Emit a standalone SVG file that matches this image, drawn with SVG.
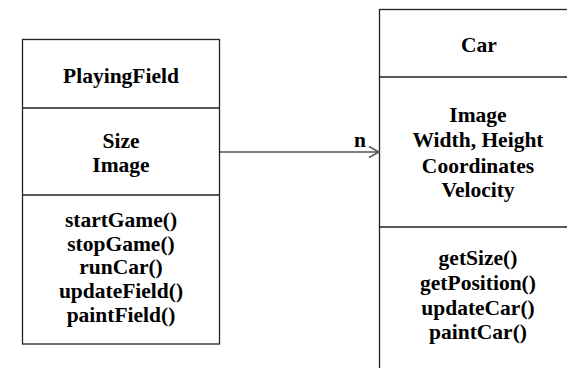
<svg xmlns="http://www.w3.org/2000/svg" width="567" height="368" viewBox="0 0 567 368">
  <defs>
    <style>
      .box { fill: #ffffff; stroke: #222222; stroke-width: 1.3; }
      .div { stroke: #222222; stroke-width: 1.3; }
      .t { font-family: "Liberation Serif", "Times New Roman", serif; font-weight: bold; font-size: 21.5px; fill: #000000; text-anchor: middle; }
      .conn { fill: none; stroke: #555555; stroke-width: 1.5; }
    </style>
  </defs>
  <rect width="567" height="368" fill="#ffffff"/>

  <!-- PlayingField class -->
  <g id="playingfield">
    <rect class="box" x="22.5" y="39.5" width="197" height="304.5"/>
    <line class="div" x1="22.5" y1="108" x2="219.5" y2="108"/>
    <line class="div" x1="22.5" y1="195" x2="219.5" y2="195"/>
    <text class="t" x="121" y="82.5">PlayingField</text>
    <text class="t" x="121" y="147.5">Size</text>
    <text class="t" x="121" y="171.5">Image</text>
    <text class="t" x="121" y="227">startGame()</text>
    <text class="t" x="121" y="250.7">stopGame()</text>
    <text class="t" x="121" y="274.4">runCar()</text>
    <text class="t" x="121" y="298">updateField()</text>
    <text class="t" x="121" y="321.7">paintField()</text>
  </g>

  <!-- Car class (continues past the right and bottom edges) -->
  <g id="car">
    <rect class="box" x="379.5" y="9.5" width="200" height="380"/>
    <line class="div" x1="379.5" y1="77" x2="579.5" y2="77"/>
    <line class="div" x1="379.5" y1="227" x2="579.5" y2="227"/>
    <text class="t" x="479" y="51.7">Car</text>
    <text class="t" x="478" y="122">Image</text>
    <text class="t" x="478" y="147">Width, Height</text>
    <text class="t" x="478" y="172.5">Coordinates</text>
    <text class="t" x="478" y="196.5">Velocity</text>
    <text class="t" x="478" y="265">getSize()</text>
    <text class="t" x="478" y="290">getPosition()</text>
    <text class="t" x="478" y="314.5">updateCar()</text>
    <text class="t" x="478" y="338.5">paintCar()</text>
  </g>

  <!-- association PlayingField -> Car -->
  <g id="connectors">
    <line class="conn" x1="220" y1="152" x2="379" y2="152"/>
    <polyline class="conn" points="369,146.5 379,152 369,157.5"/>
    <text class="t" x="360" y="146.5">n</text>
  </g>
</svg>
